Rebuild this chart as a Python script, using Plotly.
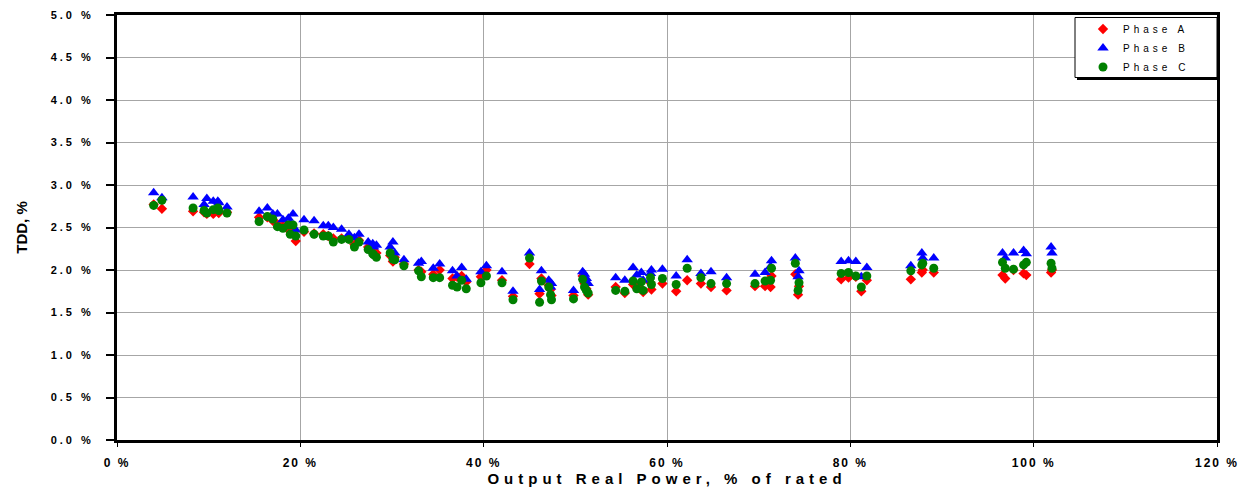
import plotly.graph_objects as go

power = [4.0, 4.9, 8.3, 9.5, 9.8, 10.5, 11.0, 11.1, 12.0, 15.5, 16.4, 17.0, 17.5, 18.1, 18.7,
         19.2, 18.9, 19.5, 20.4, 21.5, 22.5, 23.05, 23.6, 24.5, 25.3, 25.9, 26.4, 27.4, 27.9,
         28.3, 28.0, 29.8, 30.1, 30.3, 31.3, 32.9, 33.2, 34.5, 35.2, 36.6, 37.1, 37.6, 38.1,
         39.7, 40.3, 42.0, 43.2, 45.0, 46.3, 46.1, 47.1, 47.3, 47.4, 49.8, 50.8, 51.0, 51.2,
         51.4, 54.4, 55.4, 56.3, 56.7, 57.2, 57.4, 58.3, 58.2, 59.5, 61.0, 62.2, 63.7, 64.8,
         66.5, 69.6, 70.7, 71.3, 71.4, 74.0, 74.4, 74.3, 79.0, 79.8, 80.6, 81.2, 81.8, 86.6,
         87.8, 87.9, 89.1, 96.6, 96.9, 97.8, 98.9, 99.2, 101.9, 102.0]

phase_a = [2.77, 2.72, 2.69, 2.68, 2.66, 2.66, 2.69, 2.67, 2.68, 2.62, 2.62, 2.58, 2.54, 2.52, 2.50,
           2.47, 2.45, 2.34, 2.45, 2.43, 2.42, 2.40, 2.37, 2.37, 2.38, 2.30, 2.35, 2.27, 2.24,
           2.20, 2.22, 2.17, 2.10, 2.15, 2.07, 2.00, 1.98, 1.95, 2.00, 1.90, 1.92, 1.93, 1.86,
           1.92, 2.00, 1.88, 1.69, 2.07, 1.90, 1.72, 1.82, 1.77, 1.70, 1.70, 1.93, 1.84, 1.78,
           1.71, 1.80, 1.73, 1.83, 1.80, 1.78, 1.74, 1.77, 1.85, 1.84, 1.75, 1.88, 1.84, 1.80,
           1.76, 1.81, 1.81, 1.80, 1.93, 1.95, 1.81, 1.71, 1.89, 1.91, 1.92, 1.75, 1.88, 1.89,
           1.97, 2.00, 1.97, 1.94, 1.90, 2.00, 1.96, 1.94, 1.97, 2.00]

phase_b = [2.91, 2.85, 2.86, 2.77, 2.84, 2.81, 2.81, 2.79, 2.74, 2.69, 2.73, 2.66, 2.66, 2.59, 2.61,
           2.66, 2.55, 2.47, 2.59, 2.58, 2.52, 2.52, 2.50, 2.48, 2.42, 2.38, 2.42, 2.33, 2.31,
           2.29, 2.27, 2.27, 2.33, 2.20, 2.12, 2.08, 2.10, 2.02, 2.07, 1.99, 1.93, 2.03, 1.89,
           1.98, 2.05, 1.98, 1.75, 2.20, 1.99, 1.77, 1.88, 1.80, 1.84, 1.76, 1.98, 1.95, 1.90,
           1.84, 1.91, 1.88, 2.03, 1.94, 1.97, 1.88, 2.00, 1.96, 2.01, 1.93, 2.12, 1.96, 1.98,
           1.91, 1.95, 1.97, 2.04, 2.11, 2.14, 1.99, 1.92, 2.10, 2.11, 2.10, 1.92, 2.03, 2.05,
           2.20, 2.14, 2.14, 2.20, 2.14, 2.20, 2.23, 2.19, 2.27, 2.20]

phase_c = [2.76, 2.82, 2.73, 2.70, 2.67, 2.71, 2.73, 2.70, 2.67, 2.57, 2.63, 2.60, 2.51, 2.49, 2.53,
           2.53, 2.42, 2.40, 2.47, 2.42, 2.40, 2.40, 2.33, 2.36, 2.36, 2.27, 2.33, 2.24, 2.19,
           2.15, 2.18, 2.20, 2.13, 2.12, 2.05, 1.99, 1.92, 1.91, 1.91, 1.82, 1.80, 1.88, 1.78,
           1.85, 1.93, 1.85, 1.65, 2.14, 1.87, 1.62, 1.80, 1.71, 1.65, 1.66, 1.89, 1.80, 1.76,
           1.73, 1.76, 1.75, 1.87, 1.78, 1.86, 1.76, 1.83, 1.91, 1.90, 1.83, 2.02, 1.91, 1.84,
           1.84, 1.84, 1.87, 1.88, 2.02, 2.08, 1.85, 1.76, 1.96, 1.97, 1.93, 1.80, 1.93, 1.99,
           2.06, 2.08, 2.02, 2.09, 2.02, 2.01, 2.06, 2.09, 2.08, 2.02]

x_ticks = [0, 20, 40, 60, 80, 100, 120]
y_ticks = [0.0, 0.5, 1.0, 1.5, 2.0, 2.5, 3.0, 3.5, 4.0, 4.5, 5.0]

# plot area in pixels (for converting legend-box decoration to paper coords)
W, H = 1247, 489
L, R, T, B = 117, 30, 15, 49
PW, PH = W - L - R, H - T - B


def px_x(p):
    return (p - L) / PW


def px_y(p):
    return (H - B - p) / PH


fig = go.Figure()
fig.add_trace(go.Scatter(x=power, y=phase_a, mode="markers", name="Phase A",
                         marker=dict(symbol="diamond", color="#ff0000", size=8, line=dict(width=0))))
fig.add_trace(go.Scatter(x=power, y=phase_b, mode="markers", name="Phase B",
                         marker=dict(symbol="triangle-up", color="#0000ff", size=10, line=dict(width=0))))
fig.add_trace(go.Scatter(x=power, y=phase_c, mode="markers", name="Phase C",
                         marker=dict(symbol="circle", color="#008000", size=9, line=dict(width=0))))

font_family = "Liberation Sans, Arial, sans-serif"

# legend frame with drop shadow
fig.add_shape(type="rect", xref="paper", yref="paper", layer="above",
              x0=px_x(1077), x1=px_x(1220), y0=px_y(80), y1=px_y(20),
              fillcolor="black", line=dict(width=0))
fig.add_shape(type="rect", xref="paper", yref="paper", layer="above",
              x0=px_x(1075), x1=px_x(1217), y0=px_y(77.5), y1=px_y(17.5),
              fillcolor="white", line=dict(color="black", width=1))

fig.update_layout(
    width=W, height=H,
    margin=dict(l=L, r=R, t=T, b=B, autoexpand=False),
    paper_bgcolor="white", plot_bgcolor="white",
    font=dict(family=font_family, color="black"),
    showlegend=True,
    legend=dict(x=px_x(1083), y=px_y(14.5), xanchor="left", yanchor="top",
                bgcolor="rgba(0,0,0,0)", borderwidth=0,
                font=dict(size=10, family=font_family),
                tracegroupgap=0, itemsizing="trace"),
    xaxis=dict(range=[0, 120], tickvals=x_ticks,
               ticktext=[f"{v} %" for v in x_ticks],
               showgrid=True, gridcolor="#a6a6a6", gridwidth=1,
               showline=True, linecolor="black", linewidth=3, mirror=True,
               ticks="outside", ticklen=4, tickwidth=1, tickcolor="black",
               ticklabelstandoff=6,
               tickfont=dict(size=12, family=font_family, weight="bold"),
               zeroline=False, automargin=False,
               title=dict(text="Output Real Power, % of rated",
                          font=dict(size=15, family=font_family, weight="bold"),
                          standoff=4)),
    yaxis=dict(range=[0, 5], tickvals=y_ticks,
               ticktext=[f"{v:.1f} %" for v in y_ticks],
               showgrid=True, gridcolor="#a6a6a6", gridwidth=1,
               showline=True, linecolor="black", linewidth=3, mirror=True,
               ticks="outside", ticklen=8, tickwidth=2, tickcolor="black",
               ticklabelstandoff=10,
               tickfont=dict(size=11, family=font_family, weight="bold"),
               zeroline=False, automargin=False,
               title=dict(text="TDD, %",
                          font=dict(size=15, family=font_family, weight="bold"),
                          standoff=35)),
)

css = (".xtick text{letter-spacing:2px}"
       ".ytick text{letter-spacing:3px}"
       "text.xtitle{letter-spacing:5px}"
       "text.legendtext{letter-spacing:4px}")
post = ("var s=document.createElement('style');s.textContent='" + css + "';"
        "document.head.appendChild(s);"
        "var gd=document.getElementById('{plot_id}');"
        "gd.querySelectorAll('.legend .scrollbox, .legend').forEach(function(e){"
        "e.removeAttribute('clip-path');});"
        "gd.querySelectorAll('.legend clipPath rect, defs clipPath[id*=legend] rect')"
        ".forEach(function(r){r.setAttribute('width', 400);});")

fig.write_html("out.html", post_script=post)
